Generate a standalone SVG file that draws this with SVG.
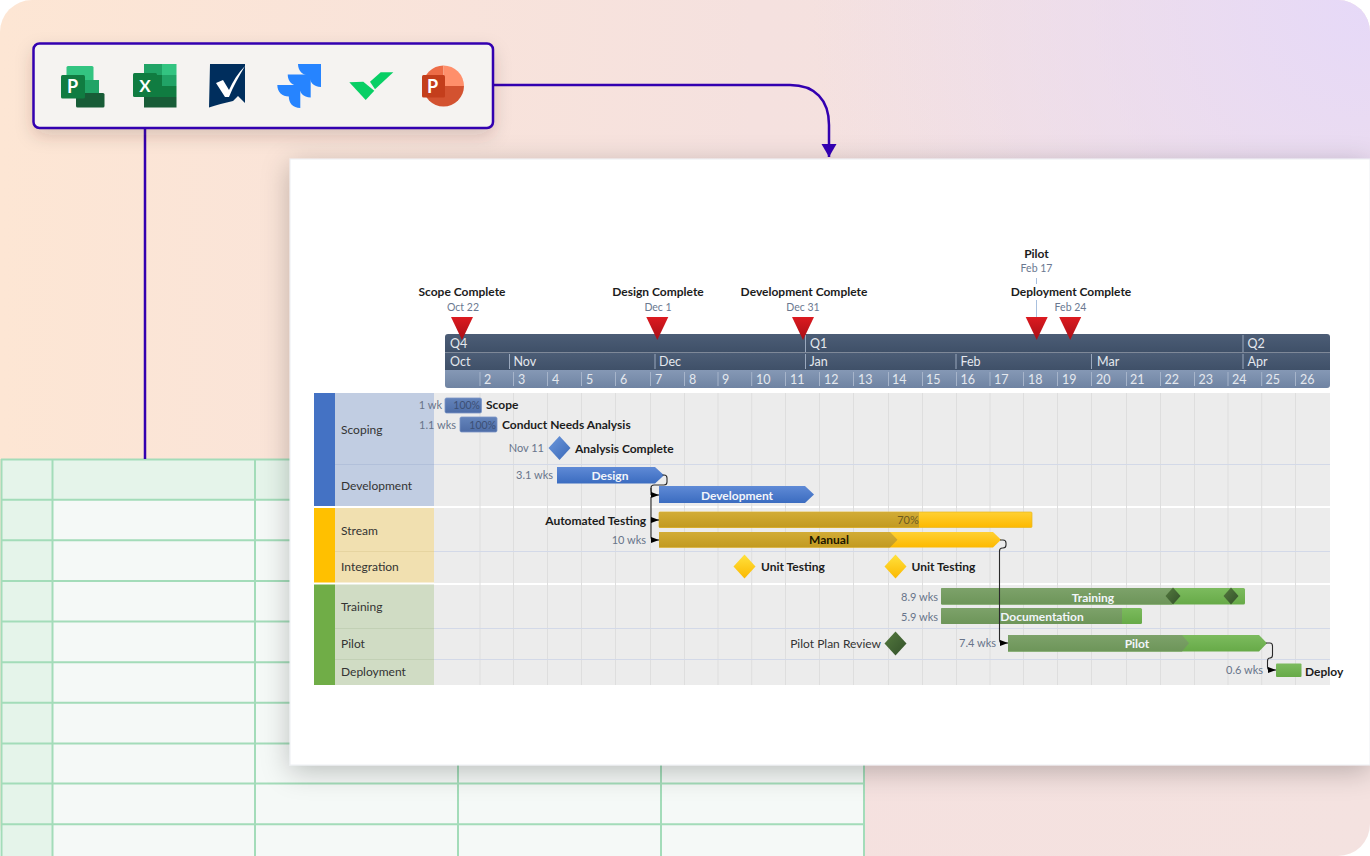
<svg xmlns="http://www.w3.org/2000/svg" width="1370" height="856" viewBox="0 0 1370 856">
<style>
text{font-family:"Lato","Liberation Sans",sans-serif}
.b{font-weight:700;font-size:12px;fill:#1c1c1c}
.d{font-size:10.5px;fill:#6a7890}
.w{font-size:11px;fill:#68748a}
.h{font-size:12.5px;fill:#e4e8ee}
.l{font-size:12px;fill:#333}
.t{font-weight:700;font-size:12px;fill:#f2f5fa;text-anchor:middle}
.m{text-anchor:middle}
.e{text-anchor:end}
.tl{stroke:#a3dcb9;stroke-width:2;fill:none}
.gv{stroke:#dedede;stroke-width:1;fill:none}
.gh{stroke:#d3d9e8;stroke-width:1;fill:none}
.hs{stroke:#9aa8bd;stroke-width:1;fill:none}
.c{stroke:#2a2a2a;stroke-width:1.1;fill:none}
.a{fill:#000}
.f{stroke:#3300b0;stroke-width:2.5;fill:none}
.ico{font-weight:700;fill:#fff;text-anchor:middle}
</style>
<defs>
<linearGradient id="bg" x1="0" y1="0" x2="1" y2="0"><stop offset="0" stop-color="#fde6d4"/><stop offset="0.55" stop-color="#f5e1df"/><stop offset="1" stop-color="#f4e2e0"/></linearGradient>
<radialGradient id="lav" gradientUnits="userSpaceOnUse" cx="1370" cy="0" r="560"><stop offset="0" stop-color="#e6d9f8"/><stop offset="1" stop-color="#e6d9f8" stop-opacity="0"/></radialGradient>
<linearGradient id="hd" x1="0" y1="0" x2="0" y2="1"><stop offset="0" stop-color="#4c5d76"/><stop offset="1" stop-color="#3f5068"/></linearGradient>
<linearGradient id="hw" x1="0" y1="0" x2="0" y2="1"><stop offset="0" stop-color="#8598b5"/><stop offset="0.5" stop-color="#7a8eac"/><stop offset="1" stop-color="#6f83a2"/></linearGradient>
<linearGradient id="blue" x1="0" y1="0" x2="0" y2="1"><stop offset="0" stop-color="#5f8ad6"/><stop offset="1" stop-color="#3b6cc0"/></linearGradient>
<linearGradient id="bdone" x1="0" y1="0" x2="0" y2="1"><stop offset="0" stop-color="#6484bb"/><stop offset="1" stop-color="#4d6ca6"/></linearGradient>
<linearGradient id="gold" x1="0" y1="0" x2="0" y2="1"><stop offset="0" stop-color="#ffd033"/><stop offset="1" stop-color="#fdb900"/></linearGradient>
<linearGradient id="gdone" x1="0" y1="0" x2="0" y2="1"><stop offset="0" stop-color="#d2ac36"/><stop offset="1" stop-color="#c29a20"/></linearGradient>
<linearGradient id="green" x1="0" y1="0" x2="0" y2="1"><stop offset="0" stop-color="#7cbb5e"/><stop offset="1" stop-color="#67aa48"/></linearGradient>
<linearGradient id="gnd" x1="0" y1="0" x2="0" y2="1"><stop offset="0" stop-color="#7da26a"/><stop offset="1" stop-color="#6d9559"/></linearGradient>
<linearGradient id="red" x1="0" y1="0" x2="0" y2="1"><stop offset="0" stop-color="#dc1a20"/><stop offset="1" stop-color="#a80f16"/></linearGradient>
<linearGradient id="dblue" x1="0" y1="0" x2="1" y2="1"><stop offset="0" stop-color="#6d98dc"/><stop offset="1" stop-color="#3a69b8"/></linearGradient>
<linearGradient id="dgold" x1="0" y1="0" x2="0" y2="1"><stop offset="0" stop-color="#ffe23e"/><stop offset="1" stop-color="#fbb800"/></linearGradient>
<linearGradient id="dgreen" x1="0" y1="0" x2="1" y2="1"><stop offset="0" stop-color="#547a3e"/><stop offset="1" stop-color="#33502a"/></linearGradient>
<linearGradient id="jira" x1="1" y1="0" x2="0" y2="1"><stop offset="0" stop-color="#2684ff"/><stop offset="0.6" stop-color="#2684ff"/><stop offset="1" stop-color="#0052cc"/></linearGradient>
<filter id="sh" filterUnits="userSpaceOnUse" x="200" y="90" width="1270" height="766"><feDropShadow dx="0" dy="6" stdDeviation="14" flood-color="#000" flood-opacity="0.24"/></filter>
<filter id="sh2" filterUnits="userSpaceOnUse" x="0" y="0" width="560" height="190"><feDropShadow dx="0" dy="7" stdDeviation="9" flood-color="#4a2a20" flood-opacity="0.2"/></filter>
<marker id="ar" markerUnits="userSpaceOnUse" markerWidth="9" markerHeight="9" refX="8" refY="4" orient="auto"><path class="a" d="M0 1L8 4L0 7z"/></marker>
<marker id="arb" markerUnits="userSpaceOnUse" markerWidth="16" markerHeight="16" refX="13" refY="8" orient="auto"><path fill="#3300b0" d="M0 0.500L13 8L0 15.500z"/></marker>
<path id="mile" d="M-11 0H11L0 23z" fill="url(#red)"/>
<path id="dia" d="M0 -12L11 0L0 12L-11 0z"/>
<path id="jr" d="M0 0H23V23C15.500 23 11.500 18 11.500 11.500C5 11.500 0 7 0 0z" fill="url(#jira)"/>
</defs>

<rect id="background" x="0" y="0" width="1370" height="856" rx="32" fill="url(#bg)"/>
<rect x="0" y="0" width="1370" height="856" rx="32" fill="url(#lav)"/>

<g id="table">
<rect x="1" y="459" width="863" height="397" fill="#f5f9f7"/>
<rect x="1" y="459" width="863" height="40.500" fill="#e5f4ea"/>
<rect x="1" y="459" width="51.500" height="397" fill="#e5f4ea"/>
<path class="tl" d="M1 459.500H864M1 499.700H864M1 540.300H864M1 581H864M1 621.500H864M1 662.200H864M1 702.800H864M1 743.500H864M1 783.500H864M1 824.300H864"/>
<path class="tl" d="M1.500 459V856M52.500 459V856M255 459V856M458 459V856M661 459V856M864 459V856"/>
</g>

<g id="chart-sheet"><rect x="290" y="159" width="1080" height="606" fill="#fff" stroke="#eceef2" stroke-width="1" filter="url(#sh)"/></g>

<g id="flow-connectors">
<path class="f" d="M145 128V459"/>
<path class="f" d="M493 85H790C815 85 829 100 829 125V157" marker-end="url(#arb)"/>
</g>

<g id="toolbar">
<rect x="33.500" y="43.500" width="459.500" height="84.500" rx="6" fill="#f5f3f1" filter="url(#sh2)"/>
<rect x="33.500" y="43.500" width="459.500" height="84.500" rx="6" fill="#f5f3f1" stroke="#3300b0" stroke-width="2.500"/>
<g id="icon-project">
<rect x="66.500" y="66" width="27" height="28" rx="1.500" fill="#33c481"/>
<rect x="76" y="80" width="23" height="14" fill="#21a366"/>
<rect x="76" y="93" width="28.500" height="14.500" rx="1.500" fill="#185c37"/>
<rect x="61" y="75" width="24" height="23.500" rx="1.500" fill="#107c41"/>
<text class="ico" x="72.500" y="93" font-size="18">P</text>
</g>
<g id="icon-excel">
<rect x="144" y="64" width="18" height="11" fill="#21a366"/><rect x="162" y="64" width="14.500" height="11" fill="#33c481"/>
<rect x="144" y="75" width="18" height="11" fill="#107c41"/><rect x="162" y="75" width="14.500" height="11" fill="#21a366"/>
<rect x="144" y="86" width="32.500" height="11" fill="#107c41"/>
<rect x="144" y="97" width="32.500" height="10.500" fill="#185c37"/>
<rect x="133" y="73" width="24" height="24" rx="1.500" fill="#107c41"/>
<text class="ico" x="145" y="91.500" font-size="17">X</text>
</g>
<g id="icon-smartsheet">
<path d="M210 64H245V103L238 96L233 101C225 103 216 105 209 107.500z" fill="#002e5d"/>
<path d="M216 83L223 80L229 90C233 81 238 73 245 66C239 76 233 87 229 97H225z" fill="#fff"/>
</g>
<g id="icon-jira">
<use href="#jr" x="298" y="64"/><use href="#jr" x="287.700" y="74.500"/><use href="#jr" x="277.300" y="85"/>
</g>
<g id="icon-wrike" fill="#08cf65">
<path d="M349.300 82.300L363.300 81.700L374.300 90.700L365.700 100z"/>
<path d="M370 81.700L380.700 72.300H393.300L375 89.300z"/>
</g>
<g id="icon-powerpoint">
<path d="M443.500 86V65.500A20.500 20.500 0 0 0 423 86z" fill="#ed6c47"/>
<path d="M443.500 86V65.500A20.500 20.500 0 0 1 464 86z" fill="#ff8f6b"/>
<path d="M423 86A20.500 20.500 0 0 0 464 86z" fill="#d35230"/>
<rect x="422" y="75" width="23" height="22.500" rx="1.500" fill="#c43e1c"/>
<text class="ico" x="432.700" y="92.500" font-size="18">P</text>
</g>
</g>

<g id="swimlanes">
<rect x="434" y="393" width="896" height="113" fill="#ececec"/>
<rect x="434" y="508" width="896" height="75" fill="#ececec"/>
<rect x="434" y="585" width="896" height="100" fill="#ececec"/>
<path class="gv" d="M480 393V685M513.500 393V685M547.500 393V685M581.500 393V685M615.500 393V685M650.500 393V685M684.500 393V685M718 393V685M751.700 393V685M785.500 393V685M819.500 393V685M853.500 393V685M888.500 393V685M922.500 393V685M956.500 393V685M990 393V685M1023.500 393V685M1057.500 393V685M1091.500 393V685M1126.500 393V685M1160.500 393V685M1194.500 393V685M1228 393V685M1261.700 393V685M1295.500 393V685"/>
<path class="gh" d="M434 464.500H1330M434 551.500H1330M434 628.500H1330M434 659.500H1330"/>
<rect x="314" y="393" width="21" height="113" fill="#4472c4"/>
<rect x="335" y="393" width="99" height="113" fill="#c1cde2"/>
<rect x="314" y="508" width="21" height="74.500" fill="#ffc000"/>
<rect x="335" y="508" width="99" height="74.500" fill="#f1e0b0"/>
<rect x="314" y="584.500" width="21" height="100.500" fill="#70ad47"/>
<rect x="335" y="584.500" width="99" height="100.500" fill="#d0dcc4"/>
<path d="M335 464.500H434" stroke="#b2c0da" stroke-width="1"/>
<path d="M335 551.500H434" stroke="#e6d4a0" stroke-width="1"/>
<path d="M335 628.500H434M335 659.500H434" stroke="#c2d0b5" stroke-width="1"/>
<text class="l" x="341" y="434">Scoping</text>
<text class="l" x="341" y="490">Development</text>
<text class="l" x="341" y="535">Stream</text>
<text class="l" x="341" y="571">Integration</text>
<text class="l" x="341" y="611">Training</text>
<text class="l" x="341" y="648">Pilot</text>
<text class="l" x="341" y="676">Deployment</text>
</g>

<g id="timescale">
<rect x="445" y="351" width="885" height="3" fill="#7e8898"/>
<path d="M445 352V337a3 3 0 0 1 3-3H1327a3 3 0 0 1 3 3V352z" fill="url(#hd)"/>
<rect x="445" y="353" width="885" height="17" fill="url(#hd)"/>
<path d="M445 370H1330V385a3 3 0 0 1-3 3H448a3 3 0 0 1-3-3z" fill="url(#hw)"/>
<path class="hs" d="M805.500 335V352M1243 335V352M509.500 354V369M655 354V369M805.500 354V369M956 354V369M1091.500 354V369M1243 354V369"/>
<path class="hs" d="M480 372V386M513.500 372V386M547.500 372V386M581.500 372V386M615.500 372V386M650.500 372V386M684.500 372V386M718 372V386M751.700 372V386M785.500 372V386M819.500 372V386M853.500 372V386M888.500 372V386M922.500 372V386M956.500 372V386M990 372V386M1023.500 372V386M1057.500 372V386M1091.500 372V386M1126.500 372V386M1160.500 372V386M1194.500 372V386M1228 372V386M1261.700 372V386M1295.500 372V386" style="stroke:#a6b4ca"/>
<text class="h" x="450" y="348">Q4</text><text class="h" x="810" y="348">Q1</text><text class="h" x="1247.500" y="348">Q2</text>
<text class="h" x="450" y="366">Oct</text><text class="h" x="513.500" y="366">Nov</text><text class="h" x="659" y="366">Dec</text><text class="h" x="809.500" y="366">Jan</text><text class="h" x="960.500" y="366">Feb</text><text class="h" x="1097" y="366">Mar</text><text class="h" x="1247.500" y="366">Apr</text>
<text class="h" x="484" y="384">2</text><text class="h" x="518" y="384">3</text><text class="h" x="552" y="384">4</text><text class="h" x="586" y="384">5</text><text class="h" x="620" y="384">6</text><text class="h" x="655" y="384">7</text><text class="h" x="689" y="384">8</text><text class="h" x="722" y="384">9</text><text class="h" x="756" y="384">10</text><text class="h" x="790" y="384">11</text><text class="h" x="824" y="384">12</text><text class="h" x="858" y="384">13</text><text class="h" x="892" y="384">14</text><text class="h" x="926" y="384">15</text><text class="h" x="960.500" y="384">16</text><text class="h" x="994" y="384">17</text><text class="h" x="1028" y="384">18</text><text class="h" x="1062" y="384">19</text><text class="h" x="1096" y="384">20</text><text class="h" x="1130" y="384">21</text><text class="h" x="1164.500" y="384">22</text><text class="h" x="1198.500" y="384">23</text><text class="h" x="1232" y="384">24</text><text class="h" x="1265.500" y="384">25</text><text class="h" x="1300" y="384">26</text>
</g>

<g id="milestones-top">
<path d="M1036.500 278V284M1036.500 300V317" stroke="#a8c0de" stroke-width="1"/>
<g id="ms-scope"><use href="#mile" x="462" y="317"/><text class="b m" x="462" y="296">Scope Complete</text><text class="d m" x="463" y="311">Oct 22</text></g>
<g id="ms-design"><use href="#mile" x="657.300" y="317"/><text class="b m" x="658" y="296">Design Complete</text><text class="d m" x="658" y="311">Dec 1</text></g>
<g id="ms-development"><use href="#mile" x="803" y="317"/><text class="b m" x="804" y="296">Development Complete</text><text class="d m" x="803" y="311">Dec 31</text></g>
<g id="ms-pilot"><use href="#mile" x="1036.700" y="317"/><text class="b m" x="1036.500" y="258">Pilot</text><text class="d m" x="1036.500" y="272">Feb 17</text></g>
<g id="ms-deployment"><use href="#mile" x="1070.200" y="317"/><text class="b m" x="1071" y="296">Deployment Complete</text><text class="d m" x="1070.500" y="311">Feb 24</text></g>
</g>

<g id="task-scope">
<text class="w e" x="442" y="409">1 wk</text>
<rect x="445" y="398" width="36.500" height="15" rx="1.500" fill="url(#bdone)" stroke="#7b96c6" stroke-width="0.800"/>
<text x="480" y="409" font-size="10.500" fill="#3c4f74" class="e">100%</text>
<text class="b" x="486" y="409">Scope</text>
</g>
<g id="task-needs">
<text class="w e" x="456" y="429">1.1 wks</text>
<rect x="460" y="417" width="37" height="15" rx="1.500" fill="url(#bdone)" stroke="#7b96c6" stroke-width="0.800"/>
<text x="496" y="429" font-size="10.500" fill="#3c4f74" class="e">100%</text>
<text class="b" x="502" y="429">Conduct Needs Analysis</text>
</g>
<g id="task-analysis">
<text class="w e" x="544" y="452">Nov 11</text>
<use href="#dia" x="559.500" y="448" fill="url(#dblue)"/>
<text class="b" x="575" y="453">Analysis Complete</text>
</g>
<g id="task-design">
<text class="w e" x="553" y="479">3.1 wks</text>
<path d="M557 467H655L664 475.200L655 483.500H557z" fill="url(#blue)"/>
<text class="t" x="610" y="480">Design</text>
</g>
<g id="task-development">
<path d="M659 486H805L814 494.500L805 503H659z" fill="url(#blue)"/>
<text class="t" x="737" y="499.500">Development</text>
</g>
<g id="task-automated">
<text class="b e" x="646" y="524.500">Automated Testing</text>
<rect x="659" y="512" width="373" height="15.500" rx="1" fill="url(#gold)" stroke="#e8b820" stroke-width="0.700"/>
<path d="M659 512H919V527.500H659z" fill="url(#gdone)"/>
<text class="m" x="908" y="524" font-size="11" fill="#6c5a22">70%</text>
</g>
<g id="task-manual">
<text class="w e" x="646" y="544">10 wks</text>
<path d="M659 532H993L1001 539.800L993 547.500H659z" fill="url(#gold)"/>
<path d="M659 532H890L897.500 539.800L890 547.500H659z" fill="url(#gdone)"/>
<text class="m" x="829" y="544" font-size="12" font-weight="700" fill="#1c1600">Manual</text>
</g>
<g id="task-unit-1"><use href="#dia" x="744.500" y="566.500" fill="url(#dgold)"/><text class="b" x="761" y="571">Unit Testing</text></g>
<g id="task-unit-2"><use href="#dia" x="895.500" y="566.500" fill="url(#dgold)"/><text class="b" x="911.500" y="571">Unit Testing</text></g>
<g id="task-training">
<text class="w e" x="938" y="601">8.9 wks</text>
<rect x="941" y="588" width="304" height="16.500" rx="1.500" fill="url(#green)"/>
<path d="M942 588H1172V604.500H942a1 1 0 0 1-1-1V589a1 1 0 0 1 1-1z" fill="url(#gnd)"/>
<text class="t" x="1093" y="601.500">Training</text>
<path d="M1173 587.500L1180.500 596L1173 604.500L1165.500 596z" fill="url(#dgreen)"/>
<path d="M1231 587.500L1238.500 596L1231 604.500L1223.500 596z" fill="url(#dgreen)"/>
</g>
<g id="task-documentation">
<text class="w e" x="938" y="620.500">5.9 wks</text>
<rect x="941" y="608" width="201" height="16" rx="1.500" fill="url(#green)"/>
<path d="M942 608H1122V624H942a1 1 0 0 1-1-1V609a1 1 0 0 1 1-1z" fill="url(#gnd)"/>
<text class="t" x="1042" y="621">Documentation</text>
</g>
<g id="task-plan-review">
<text x="881" y="648" font-size="12" fill="#333" class="e">Pilot Plan Review</text>
<use href="#dia" x="895.500" y="643.500" fill="url(#dgreen)"/>
</g>
<g id="task-pilot">
<text class="w e" x="996" y="647">7.4 wks</text>
<path d="M1008 635H1259L1267 643.200L1259 651.500H1008z" fill="url(#green)"/>
<path d="M1008 635H1182L1189 643.200L1182 651.500H1008z" fill="url(#gnd)"/>
<text class="t" x="1137" y="648">Pilot</text>
</g>
<g id="task-deploy">
<text class="w e" x="1263" y="674">0.6 wks</text>
<rect x="1276" y="663.500" width="25.500" height="13.500" rx="1" fill="url(#green)"/>
<text class="b" x="1305" y="676">Deploy</text>
</g>

<g id="connectors">
<path class="c" d="M662.500 475H664Q667 475 667 478V482Q667 485 664 485H654Q651 485 651 488V495"/>
<path class="c" d="M651 488Q651 495 654 495H659" marker-end="url(#ar)"/>
<path class="c" d="M651 497V537Q651 540 654 540H659" marker-end="url(#ar)"/>
<path class="c" d="M651 520H659" marker-end="url(#ar)"/>
<path class="c" d="M1000 540H1003Q1006 540 1006 543V545Q1006 548 1003 548H1002.500Q999.500 548 999.500 551V640Q999.500 643 1002.500 643H1008" marker-end="url(#ar)"/>
<path class="c" d="M1266 643H1270Q1272.500 643 1272.500 646V655Q1272.500 658 1270 658H1270Q1267.500 658 1267.500 661V667Q1267.500 670 1270.500 670H1276" marker-end="url(#ar)"/>
</g>
</svg>
